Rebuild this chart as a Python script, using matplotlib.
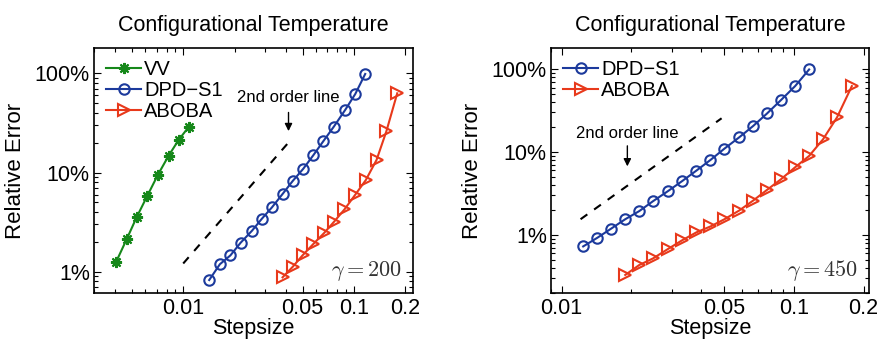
import numpy as np
import matplotlib
matplotlib.use("Agg")
import matplotlib.pyplot as plt
from matplotlib.ticker import FixedLocator, FixedFormatter, LogLocator, NullFormatter

plt.rcParams['font.family'] = ['Liberation Sans', 'DejaVu Sans']
plt.rcParams['mathtext.fontset'] = 'cm'

# gamma = 200 panel
vv_h = [0.00403, 0.00466, 0.00533, 0.00615, 0.00711, 0.0082, 0.0094, 0.0108]
vv_err = [1.24, 2.12, 3.53, 5.79, 9.5, 14.7, 21.3, 29.0]

dpd_h_200 = [0.0142, 0.0164, 0.0189, 0.0217, 0.0253, 0.0289, 0.0331, 0.0382,
             0.0438, 0.0505, 0.0578, 0.0661, 0.0763, 0.0889, 0.1019, 0.1165]
dpd_err_200 = [0.824, 1.19, 1.46, 1.96, 2.59, 3.42, 4.45, 6.07,
               8.21, 10.9, 14.9, 20.6, 29.0, 42.7, 61.9, 98.5]

aboba_h_200 = [0.0382, 0.0438, 0.0500, 0.0578, 0.0667, 0.0763, 0.0881, 0.1019,
               0.1175, 0.1358, 0.155, 0.1795]
aboba_err_200 = [0.877, 1.12, 1.46, 1.90, 2.44, 3.17, 4.25, 5.98,
                 8.40, 13.4, 26.0, 62.9]

ref_h_200 = [0.01, 0.0407]
ref_err_200 = [1.21, 19.4]

# gamma = 450 panel
dpd_h_450 = [0.01239, 0.01426, 0.01638, 0.0188, 0.0216, 0.0248, 0.0287, 0.033,
             0.0381, 0.0438, 0.0503, 0.0582, 0.0669, 0.0768, 0.0882, 0.1014, 0.1165]
dpd_err_450 = [0.723, 0.92, 1.19, 1.54, 1.93, 2.55, 3.36, 4.43,
               5.96, 8.01, 10.97, 15.0, 20.6, 29.2, 42.4, 62.4, 99.1]

aboba_h_450 = [0.0188, 0.0216, 0.0248, 0.0287, 0.033, 0.0381, 0.0438, 0.0503,
               0.0582, 0.0669, 0.0768, 0.0882, 0.1014, 0.1165, 0.1337, 0.1537, 0.178]
aboba_err_450 = [0.327, 0.431, 0.519, 0.672, 0.855, 1.07, 1.26, 1.54,
                 1.96, 2.59, 3.49, 4.69, 6.53, 8.95, 14.2, 26.2, 62.4]

ref_h_450 = [0.01207, 0.0489]
ref_err_450 = [1.54, 25.5]

xticks = [0.01, 0.05, 0.1, 0.2]
xticklabels = ['0.01', '0.05', '0.1', '0.2']
yticks = [1, 10, 100]
yticklabels = ['1%', '10%', '100%']

green = '#16881a'
blue = '#1c3a9c'
red = '#e8391b'

fig = plt.figure(figsize=(8.8, 3.39), dpi=100)
ax1 = fig.add_axes([0.1068, 0.1357, 0.3625, 0.7227])
ax2 = fig.add_axes([0.6261, 0.1357, 0.3614, 0.7227])

lw = 1.5
ms = 7.5


def style(ax, xlim, ylim):
    ax.set_xscale('log')
    ax.set_yscale('log')
    ax.set_xlim(*xlim)
    ax.set_ylim(*ylim)
    ax.xaxis.set_major_locator(FixedLocator(xticks))
    ax.xaxis.set_major_formatter(FixedFormatter(xticklabels))
    ax.xaxis.set_minor_locator(LogLocator(base=10, subs=np.arange(2, 10)))
    ax.xaxis.set_minor_formatter(NullFormatter())
    ax.yaxis.set_major_locator(FixedLocator(yticks))
    ax.yaxis.set_major_formatter(FixedFormatter(yticklabels))
    ax.yaxis.set_minor_locator(LogLocator(base=10, subs=np.arange(2, 10)))
    ax.yaxis.set_minor_formatter(NullFormatter())
    ax.tick_params(which='both', direction='in', top=True, right=True,
                   labelsize=15.5, width=0.8)
    ax.tick_params(which='major', length=5)
    ax.tick_params(axis='y', which='major', pad=3)
    ax.tick_params(axis='x', which='major', pad=3.5)
    ax.tick_params(which='minor', length=3)
    for s in ax.spines.values():
        s.set_linewidth(1.2)
    ax.set_title('Configurational Temperature', fontsize=15.5, pad=12)
    ax.set_xlabel('Stepsize', fontsize=15.5, labelpad=-0.5)
    ax.set_ylabel('Relative Error', fontsize=16, labelpad=6)


# left panel
ax1.plot(vv_h, vv_err, color=green, lw=lw, marker=(8, 2, 0), ms=8, mew=1.5, label='VV')
ax1.plot(dpd_h_200, dpd_err_200, color=blue, lw=lw, marker='o', ms=ms,
         mfc='none', mew=1.5, label='DPD\u2212S1')
ax1.plot(aboba_h_200, aboba_err_200, color=red, lw=lw, marker='>', ms=ms + 1,
         mfc='none', mew=1.5, label='ABOBA')
ax1.plot(ref_h_200, ref_err_200, 'k--', lw=1.5, dashes=(4, 4))
ax1.text(0.041, 57, '2nd order line', fontsize=12, ha='center', va='center')
ax1.annotate('', xy=(0.0414, 24.5), xytext=(0.0414, 43),
             arrowprops=dict(arrowstyle='-|>', color='k', lw=1, mutation_scale=11))
ax1.text(0.965, 0.09, r'$\gamma = 200$', transform=ax1.transAxes, fontsize=16,
         ha='right', va='center', color='0.2')
style(ax1, (0.0030, 0.222), (0.61, 180))
ax1.legend(loc='upper left', frameon=False, fontsize=14.5, handlelength=1.75,
           handletextpad=0.15, labelspacing=0.1, borderaxespad=0.2,
           bbox_to_anchor=(0.0, 1.0))

# right panel
ax2.plot(dpd_h_450, dpd_err_450, color=blue, lw=lw, marker='o', ms=ms,
         mfc='none', mew=1.5, label='DPD\u2212S1')
ax2.plot(aboba_h_450, aboba_err_450, color=red, lw=lw, marker='>', ms=ms + 1,
         mfc='none', mew=1.5, label='ABOBA')
ax2.plot(ref_h_450, ref_err_450, 'k--', lw=1.5, dashes=(4, 4))
ax2.text(0.0192, 16.8, '2nd order line', fontsize=12, ha='center', va='center')
ax2.annotate('', xy=(0.0192, 6.2), xytext=(0.0192, 12.8),
             arrowprops=dict(arrowstyle='-|>', color='k', lw=1, mutation_scale=11))
ax2.text(0.965, 0.09, r'$\gamma = 450$', transform=ax2.transAxes, fontsize=16,
         ha='right', va='center', color='0.2')
style(ax2, (0.0090, 0.211), (0.198, 180))
ax2.legend(loc='upper left', frameon=False, fontsize=14.5, handlelength=1.75,
           handletextpad=0.15, labelspacing=0.1, borderaxespad=0.2,
           bbox_to_anchor=(0.0, 1.0))

fig.savefig('out.png', dpi=100)
